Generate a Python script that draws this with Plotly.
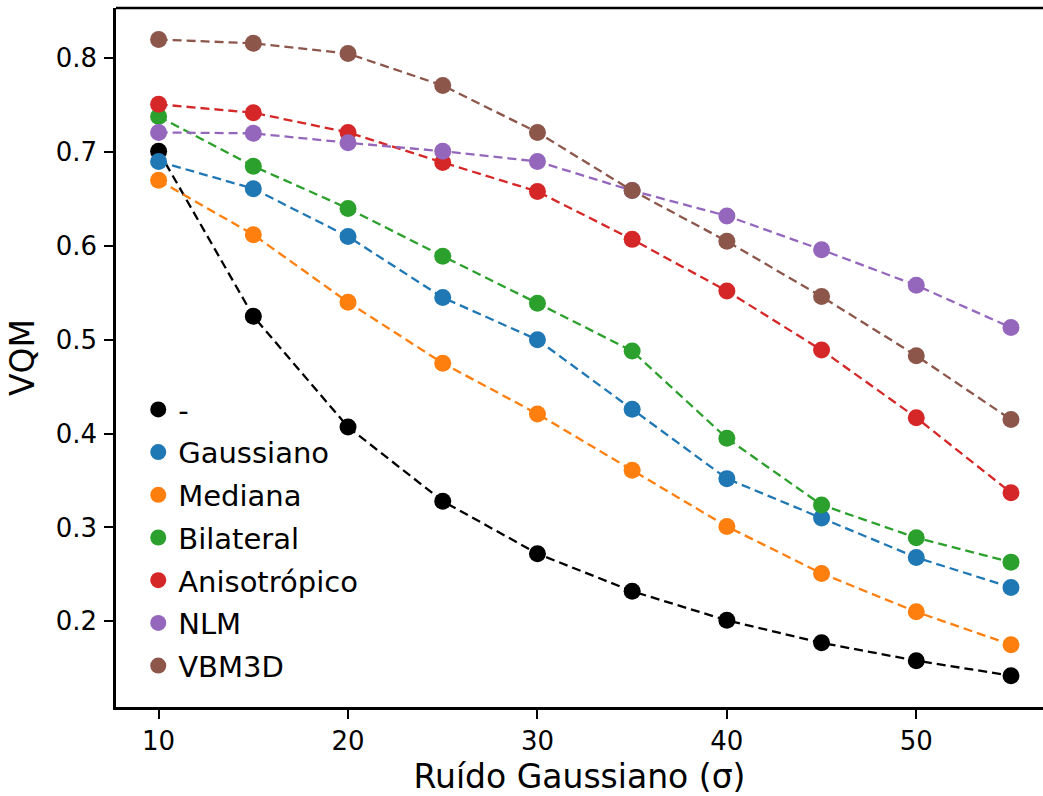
import plotly.graph_objects as go

# Noise levels (sigma) on the horizontal axis
sigma = [10, 15, 20, 25, 30, 35, 40, 45, 50, 55]

# VQM per filter
vqm_ruidoso = [0.701, 0.525, 0.407, 0.328, 0.272, 0.232, 0.201, 0.177, 0.158, 0.142]
vqm_gaussiano = [0.690, 0.661, 0.610, 0.545, 0.500, 0.426, 0.352, 0.310, 0.268, 0.236]
vqm_mediana = [0.670, 0.612, 0.540, 0.475, 0.421, 0.361, 0.301, 0.251, 0.210, 0.175]
vqm_bilateral = [0.738, 0.685, 0.640, 0.589, 0.539, 0.488, 0.395, 0.324, 0.289, 0.263]
vqm_anisotropico = [0.751, 0.742, 0.721, 0.689, 0.658, 0.607, 0.552, 0.489, 0.417, 0.337]
vqm_nlm = [0.721, 0.720, 0.710, 0.701, 0.690, 0.659, 0.632, 0.596, 0.558, 0.513]
vqm_vbm3d = [0.820, 0.816, 0.805, 0.771, 0.721, 0.659, 0.605, 0.546, 0.483, 0.415]

labels = ["-", "Gaussiano", "Mediana", "Bilateral", "Anisotrópico", "NLM", "VBM3D"]
colors = ["#000000", "#1f77b4", "#ff7f0e", "#2ca02c", "#d62728", "#9467bd", "#8c564b"]
series = [vqm_ruidoso, vqm_gaussiano, vqm_mediana, vqm_bilateral,
          vqm_anisotropico, vqm_nlm, vqm_vbm3d]

FONT = "DejaVu Sans"

fig = go.Figure()
for name, color, vals in zip(labels, colors, series):
    # dashed connecting line (kept out of the legend)
    fig.add_trace(go.Scatter(
        x=sigma, y=vals, mode="lines", showlegend=False, hoverinfo="skip",
        legendgroup=name,
        line=dict(color=color, width=2.3, dash="9px,5px"),
    ))
    # markers, shown in the legend
    fig.add_trace(go.Scatter(
        x=sigma, y=vals, mode="markers", name=name, legendgroup=name,
        marker=dict(color=color, size=17, line=dict(width=0)),
    ))

fig.update_layout(
    width=1043, height=796,
    margin=dict(l=116, r=0, t=8, b=89),
    paper_bgcolor="white", plot_bgcolor="white",
    font=dict(family=FONT, size=26, color="black"),
    showlegend=True,
    legend=dict(
        x=0.024, y=0.462, xanchor="left", yanchor="top",
        bgcolor="rgba(0,0,0,0)", borderwidth=0,
        font=dict(family=FONT, size=29, color="black"),
        tracegroupgap=2, itemsizing="trace",
    ),
    xaxis=dict(
        range=[7.75, 56.69], tickmode="array", tickvals=[10, 20, 30, 40, 50],
        showgrid=False, zeroline=False,
        showline=True, linecolor="black", linewidth=2.5,
        ticks="outside", ticklen=9, tickwidth=2, tickcolor="black",
        title=dict(text="Ruído Gaussiano (σ)", font=dict(size=33), standoff=14),
    ),
    yaxis=dict(
        range=[0.1086, 0.8536], tickmode="array",
        tickvals=[0.2, 0.3, 0.4, 0.5, 0.6, 0.7, 0.8],
        ticktext=["0.2", "0.3", "0.4", "0.5", "0.6", "0.7", "0.8"],
        showgrid=False, zeroline=False,
        showline=True, linecolor="black", linewidth=2.5,
        ticks="outside", ticklen=9, tickwidth=2, tickcolor="black",
        ticklabelstandoff=2,
        title=dict(text="VQM", font=dict(size=33), standoff=12),
    ),
    shapes=[dict(type="line", xref="paper", yref="paper", x0=0, x1=1, y0=1, y1=1,
                 line=dict(color="black", width=2.5))],
)

fig.write_html("out.html")
